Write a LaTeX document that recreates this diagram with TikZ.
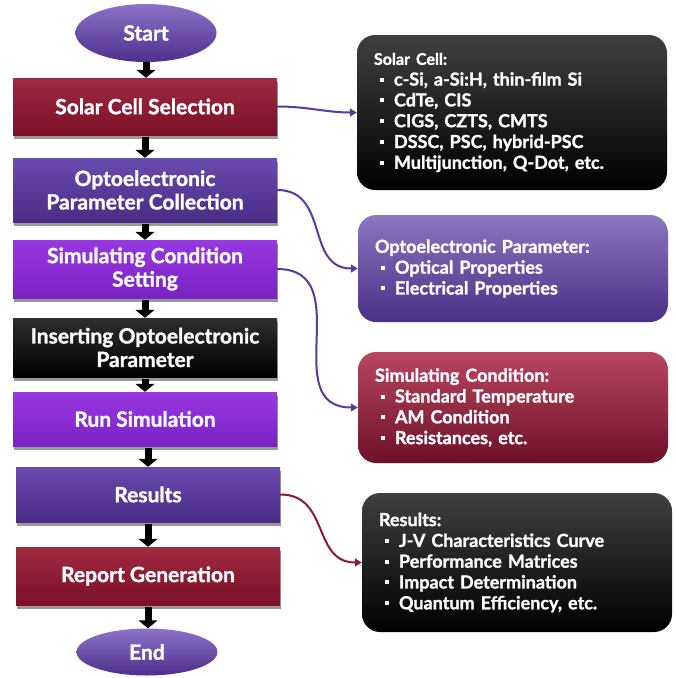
\documentclass[tikz,border=0pt]{standalone}
\usepackage{fontspec}
\setmainfont{Lato}[BoldFeatures={FakeBold=1.3}]
\usetikzlibrary{shapes.geometric,shadows,arrows.meta}
\definecolor{redT}{HTML}{A02A42}
\definecolor{redB}{HTML}{7A1026}
\definecolor{purT}{HTML}{6A4AAE}
\definecolor{purB}{HTML}{4A2C86}
\definecolor{vioT}{HTML}{9838E0}
\definecolor{vioB}{HTML}{7A22C4}
\definecolor{ellT}{HTML}{8E72C8}
\definecolor{ellB}{HTML}{4E2F8C}
\definecolor{rpurT}{HTML}{8C76C0}
\definecolor{rpurB}{HTML}{4A2F86}
\definecolor{rredT}{HTML}{B84662}
\definecolor{rredB}{HTML}{6E1028}
\definecolor{lineP}{HTML}{5A3A9A}
\definecolor{lineR}{HTML}{8B1A32}
\newcommand\sqb{\hspace*{6pt}\rule[4pt]{4pt}{4pt}\hspace*{10pt}}
\begin{document}
\begin{tikzpicture}[x=1pt,y=-1pt,
  lbox/.style={rectangle, minimum width=264pt, inner sep=0pt, text=white,
    font=\fontsize{21}{23.5}\selectfont\bfseries, align=center,
    drop shadow={shadow xshift=1pt, shadow yshift=-4pt, opacity=0.4, fill=black}},
  redbox/.style={lbox, top color=redT, bottom color=redB},
  purbox/.style={lbox, top color=purT, bottom color=purB},
  viobox/.style={lbox, top color=vioT, bottom color=vioB},
  blkbox/.style={lbox, top color=black!82!white, bottom color=black},
  term/.style={ellipse, minimum width=141pt, inner sep=0pt, text=white,
    font=\fontsize{21}{23.5}\selectfont\bfseries, top color=ellT, bottom color=ellB},
  rbox/.style={rectangle, rounded corners=18pt, text width=276pt, inner xsep=17pt,
    inner ysep=0pt, align=left, text=white, font=\fontsize{18}{20.8}\selectfont\bfseries},
  rblk/.style={rbox, top color=black!75!white, bottom color=black},
  rpur/.style={rbox, top color=rpurT, bottom color=rpurB},
  rred/.style={rbox, top color=rredT, bottom color=rredB},
  flow/.style={draw=black, line width=7pt, -{Triangle[width=19pt,length=8pt]}},
  conn/.style={line width=2pt, -{Triangle[width=8pt,length=7pt]}}
]
\useasboundingbox (0,0) rectangle (676,678);
\fill[white] (0,0) rectangle (676,678);

% left column
\node[term, minimum height=58pt] (start) at (146,33) {Start};
\node[redbox, minimum height=57pt] (sel) at (145,106.5) {Solar Cell Selection};
\node[purbox, minimum height=64pt] (opt) at (145,190) {Optoelectronic\\Parameter Collection};
\node[viobox, minimum height=58pt] (sim) at (145,269) {Simulating Condition\\Setting};
\node[blkbox, minimum height=59pt] (ins) at (145,347.5) {Inserting Optoelectronic\\Parameter};
\node[viobox, minimum height=54pt] (run) at (145,419) {Run Simulation};
\node[purbox, minimum height=55pt] (res) at (148,494.5) {Results};
\node[redbox, minimum height=58pt] (rep) at (148,576) {Report Generation};
\node[term, minimum height=47pt] (end) at (147,652) {End};

\draw[flow] (start.south) -- (start.south |- sel.north);
\draw[flow] ([yshift=-2pt]sel.south) -- (sel.south |- opt.north);
\draw[flow] ([yshift=-2pt]opt.south) -- (opt.south |- sim.north);
\draw[flow] ([yshift=-2pt]sim.south) -- (sim.south |- ins.north);
\draw[flow] ([yshift=-2pt]ins.south) -- (ins.south |- run.north);
\draw[flow] ([xshift=3pt,yshift=-2pt]run.south) -- (res.south |- res.north);
\draw[flow] ([yshift=-2pt]res.south) -- (res.south |- rep.north);
\draw[flow] ([yshift=-2pt]rep.south) -- (rep.south |- end.north);

% right column
\node[rblk, minimum height=155pt] (r1) at (512,112.5) {{\fontsize{16}{20.8}\selectfont Solar Cell:}\\
\sqb c-Si, a-Si:H, thin-film Si\\
\sqb CdTe, CIS\\
\sqb CIGS, CZTS, CMTS\\
\sqb DSSC, PSC, hybrid-PSC\\
\sqb Multijunction, Q-Dot, etc.};
\node[rpur, minimum height=107pt] (r2) at (513,268.5) {Optoelectronic Parameter:\\
\sqb Optical Properties\\
\sqb Electrical Properties};
\node[rred, minimum height=111pt] (r3) at (513,407.5) {Simulating Condition:\\
\sqb Standard Temperature\\
\sqb AM Condition\\
\sqb Resistances, etc.};
\node[rblk, minimum height=139pt] (r4) at (517,562.5) {Results:\\
\sqb J-V Characteristics Curve\\
\sqb Performance Matrices\\
\sqb Impact Determination\\
\sqb Quantum Efficiency, etc.};

% connectors
\draw[conn, lineP] (sel.east) to[out=0, in=180] (r1.west);
\draw[conn, lineP] (opt.east) to[out=0, in=180, looseness=1.2] (r2.west);
\draw[conn, lineP] (sim.east) to[out=0, in=180, looseness=1.3] (r3.west);
\draw[conn, lineR] (res.east) to[out=0, in=180, looseness=1.2] (r4.west);
\end{tikzpicture}
\end{document}
